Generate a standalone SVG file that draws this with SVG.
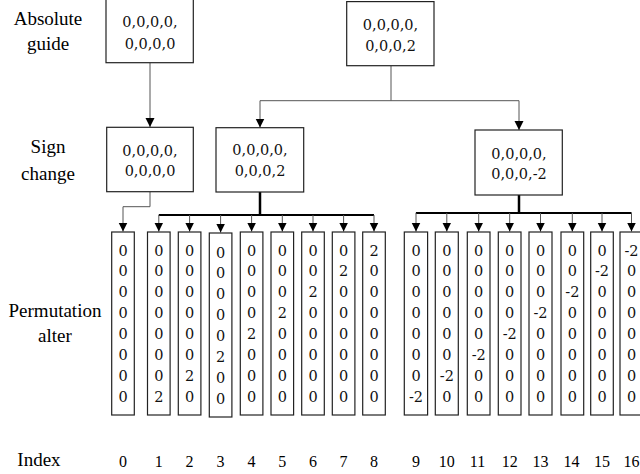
<svg xmlns="http://www.w3.org/2000/svg" width="640" height="474" viewBox="0 0 640 474">
<style>
.box{fill:#fff;stroke:#222;stroke-width:1.2}
.col{fill:#fff;stroke:#222;stroke-width:1.2}
.bt{font-family:"DejaVu Serif",serif;font-size:14.5px;fill:#111;text-anchor:middle}
.ct{font-family:"DejaVu Serif",serif;font-size:14.5px;fill:#111;text-anchor:middle}
.lb{font-family:"Liberation Serif",serif;font-size:19px;fill:#000;text-anchor:middle}
.ix{font-family:"Liberation Serif",serif;font-size:16px;fill:#000;text-anchor:middle}
.thin{fill:none;stroke:#555;stroke-width:1}
.bus{fill:none;stroke:#000;stroke-width:2}
.trunk{fill:none;stroke:#000;stroke-width:2.5}
</style>
<defs>
<marker id="ah" markerUnits="userSpaceOnUse" markerWidth="10" markerHeight="10" refX="9" refY="4.5" orient="auto">
<path d="M0,0 L9,4.5 L0,9 z" fill="#000"/>
</marker>
</defs>

<g id="labels">
<text class="lb" x="48" y="25">Absolute</text>
<text class="lb" x="48" y="50">guide</text>
<text class="lb" x="48" y="153">Sign</text>
<text class="lb" x="48" y="180">change</text>
<text class="lb" x="55" y="317">Permutation</text>
<text class="lb" x="55" y="342">alter</text>
<text class="lb" x="39" y="466">Index</text>
</g>

<g id="connectors">
<path class="thin" d="M150,62.7 V127" marker-end="url(#ah)"/>
<path class="thin" d="M391,65.7 V100.7 H260 V127.5" marker-end="url(#ah)"/>
<path class="thin" d="M391,100.7 H519 V130" marker-end="url(#ah)"/>
<path class="thin" d="M150,191.7 V206.7 H123 V231.5" marker-end="url(#ah)"/>
<path class="trunk" d="M260,192 V215"/>
<path class="bus" d="M158.8,215 H374"/>
<path class="trunk" d="M519,195 V213"/>
<path class="bus" d="M415.9,213 H631.5"/>
<path class="thin" d="M158.8,215 V231.5" marker-end="url(#ah)"/>
<path class="thin" d="M189.6,215 V231.5" marker-end="url(#ah)"/>
<path class="thin" d="M220.6,215 V232.5" marker-end="url(#ah)"/>
<path class="thin" d="M251.6,215 V231.5" marker-end="url(#ah)"/>
<path class="thin" d="M282.3,215 V231.5" marker-end="url(#ah)"/>
<path class="thin" d="M313,215 V231.5" marker-end="url(#ah)"/>
<path class="thin" d="M343.6,215 V231.5" marker-end="url(#ah)"/>
<path class="thin" d="M374,215 V231.5" marker-end="url(#ah)"/>
<path class="thin" d="M416,213 V231.5" marker-end="url(#ah)"/>
<path class="thin" d="M446.8,213 V231.5" marker-end="url(#ah)"/>
<path class="thin" d="M478.7,213 V231.5" marker-end="url(#ah)"/>
<path class="thin" d="M509.7,213 V231.5" marker-end="url(#ah)"/>
<path class="thin" d="M540.5,213 V231.5" marker-end="url(#ah)"/>
<path class="thin" d="M572.3,213 V231.5" marker-end="url(#ah)"/>
<path class="thin" d="M602,213 V231.5" marker-end="url(#ah)"/>
<path class="thin" d="M631.5,213 V231.5" marker-end="url(#ah)"/>
</g>

<g id="abs-guide">
<rect class="box" x="106" y="-1" width="87.3" height="63.7"/>
<text class="bt" x="150" y="27">0,0,0,0,</text>
<text class="bt" x="150" y="49">0,0,0,0</text>
</g>
<g id="root">
<rect class="box" x="346.7" y="1.6" width="87.3" height="64.1"/>
<text class="bt" x="390.5" y="29.5">0,0,0,0,</text>
<text class="bt" x="390.5" y="50.5">0,0,0,2</text>
</g>
<g id="sign-0">
<rect class="box" x="106.7" y="127.3" width="86.6" height="64.4"/>
<text class="bt" x="150" y="155.5">0,0,0,0,</text>
<text class="bt" x="150" y="175.5">0,0,0,0</text>
</g>
<g id="sign-pos">
<rect class="box" x="216" y="127.7" width="87.7" height="64.3"/>
<text class="bt" x="260" y="155">0,0,0,0,</text>
<text class="bt" x="260" y="175.5">0,0,0,2</text>
</g>
<g id="sign-neg">
<rect class="box" x="475" y="130" width="87.3" height="65"/>
<text class="bt" x="519" y="159">0,0,0,0,</text>
<text class="bt" x="519" y="179">0,0,0,-2</text>
</g>

<g id="col0"><rect class="col" x="111.7" y="232" width="22.6" height="183"/>
<text class="ct" x="123" y="255.5">0</text><text class="ct" x="123" y="276.4">0</text><text class="ct" x="123" y="297.4">0</text><text class="ct" x="123" y="318.3">0</text><text class="ct" x="123" y="339.3">0</text><text class="ct" x="123" y="360.3">0</text><text class="ct" x="123" y="381.2">0</text><text class="ct" x="123" y="402.2">0</text></g>
<g id="col1"><rect class="col" x="147.5" y="232" width="22.6" height="183"/>
<text class="ct" x="158.8" y="255.5">0</text><text class="ct" x="158.8" y="276.4">0</text><text class="ct" x="158.8" y="297.4">0</text><text class="ct" x="158.8" y="318.3">0</text><text class="ct" x="158.8" y="339.3">0</text><text class="ct" x="158.8" y="360.3">0</text><text class="ct" x="158.8" y="381.2">0</text><text class="ct" x="158.8" y="402.2">2</text></g>
<g id="col2"><rect class="col" x="178.3" y="232" width="22.6" height="183"/>
<text class="ct" x="189.6" y="255.5">0</text><text class="ct" x="189.6" y="276.4">0</text><text class="ct" x="189.6" y="297.4">0</text><text class="ct" x="189.6" y="318.3">0</text><text class="ct" x="189.6" y="339.3">0</text><text class="ct" x="189.6" y="360.3">0</text><text class="ct" x="189.6" y="381.2">2</text><text class="ct" x="189.6" y="402.2">0</text></g>
<g id="col3"><rect class="col" x="209.3" y="233" width="22.6" height="184"/>
<text class="ct" x="220.6" y="257.5">0</text><text class="ct" x="220.6" y="278.4">0</text><text class="ct" x="220.6" y="299.4">0</text><text class="ct" x="220.6" y="320.3">0</text><text class="ct" x="220.6" y="341.3">0</text><text class="ct" x="220.6" y="362.3">2</text><text class="ct" x="220.6" y="383.2">0</text><text class="ct" x="220.6" y="404.2">0</text></g>
<g id="col4"><rect class="col" x="240.3" y="232" width="22.6" height="183"/>
<text class="ct" x="251.6" y="255.5">0</text><text class="ct" x="251.6" y="276.4">0</text><text class="ct" x="251.6" y="297.4">0</text><text class="ct" x="251.6" y="318.3">0</text><text class="ct" x="251.6" y="339.3">2</text><text class="ct" x="251.6" y="360.3">0</text><text class="ct" x="251.6" y="381.2">0</text><text class="ct" x="251.6" y="402.2">0</text></g>
<g id="col5"><rect class="col" x="271" y="232" width="22.6" height="183"/>
<text class="ct" x="282.3" y="255.5">0</text><text class="ct" x="282.3" y="276.4">0</text><text class="ct" x="282.3" y="297.4">0</text><text class="ct" x="282.3" y="318.3">2</text><text class="ct" x="282.3" y="339.3">0</text><text class="ct" x="282.3" y="360.3">0</text><text class="ct" x="282.3" y="381.2">0</text><text class="ct" x="282.3" y="402.2">0</text></g>
<g id="col6"><rect class="col" x="301.7" y="232" width="22.6" height="183"/>
<text class="ct" x="313" y="255.5">0</text><text class="ct" x="313" y="276.4">0</text><text class="ct" x="313" y="297.4">2</text><text class="ct" x="313" y="318.3">0</text><text class="ct" x="313" y="339.3">0</text><text class="ct" x="313" y="360.3">0</text><text class="ct" x="313" y="381.2">0</text><text class="ct" x="313" y="402.2">0</text></g>
<g id="col7"><rect class="col" x="332.3" y="232" width="22.6" height="183"/>
<text class="ct" x="343.6" y="255.5">0</text><text class="ct" x="343.6" y="276.4">2</text><text class="ct" x="343.6" y="297.4">0</text><text class="ct" x="343.6" y="318.3">0</text><text class="ct" x="343.6" y="339.3">0</text><text class="ct" x="343.6" y="360.3">0</text><text class="ct" x="343.6" y="381.2">0</text><text class="ct" x="343.6" y="402.2">0</text></g>
<g id="col8"><rect class="col" x="362.7" y="232" width="22.6" height="183"/>
<text class="ct" x="374" y="255.5">2</text><text class="ct" x="374" y="276.4">0</text><text class="ct" x="374" y="297.4">0</text><text class="ct" x="374" y="318.3">0</text><text class="ct" x="374" y="339.3">0</text><text class="ct" x="374" y="360.3">0</text><text class="ct" x="374" y="381.2">0</text><text class="ct" x="374" y="402.2">0</text></g>
<g id="col9"><rect class="col" x="404.3" y="232" width="23.3" height="183"/>
<text class="ct" x="416" y="255.5">0</text><text class="ct" x="416" y="276.4">0</text><text class="ct" x="416" y="297.4">0</text><text class="ct" x="416" y="318.3">0</text><text class="ct" x="416" y="339.3">0</text><text class="ct" x="416" y="360.3">0</text><text class="ct" x="416" y="381.2">0</text><text class="ct" x="416" y="402.2">-2</text></g>
<g id="col10"><rect class="col" x="435.3" y="232" width="23" height="183"/>
<text class="ct" x="446.8" y="255.5">0</text><text class="ct" x="446.8" y="276.4">0</text><text class="ct" x="446.8" y="297.4">0</text><text class="ct" x="446.8" y="318.3">0</text><text class="ct" x="446.8" y="339.3">0</text><text class="ct" x="446.8" y="360.3">0</text><text class="ct" x="446.8" y="381.2">-2</text><text class="ct" x="446.8" y="402.2">0</text></g>
<g id="col11"><rect class="col" x="467.3" y="232" width="22.7" height="183"/>
<text class="ct" x="478.7" y="255.5">0</text><text class="ct" x="478.7" y="276.4">0</text><text class="ct" x="478.7" y="297.4">0</text><text class="ct" x="478.7" y="318.3">0</text><text class="ct" x="478.7" y="339.3">0</text><text class="ct" x="478.7" y="360.3">-2</text><text class="ct" x="478.7" y="381.2">0</text><text class="ct" x="478.7" y="402.2">0</text></g>
<g id="col12"><rect class="col" x="498.3" y="232" width="22.7" height="183"/>
<text class="ct" x="509.7" y="255.5">0</text><text class="ct" x="509.7" y="276.4">0</text><text class="ct" x="509.7" y="297.4">0</text><text class="ct" x="509.7" y="318.3">0</text><text class="ct" x="509.7" y="339.3">-2</text><text class="ct" x="509.7" y="360.3">0</text><text class="ct" x="509.7" y="381.2">0</text><text class="ct" x="509.7" y="402.2">0</text></g>
<g id="col13"><rect class="col" x="529" y="232" width="23" height="183"/>
<text class="ct" x="540.5" y="255.5">0</text><text class="ct" x="540.5" y="276.4">0</text><text class="ct" x="540.5" y="297.4">0</text><text class="ct" x="540.5" y="318.3">-2</text><text class="ct" x="540.5" y="339.3">0</text><text class="ct" x="540.5" y="360.3">0</text><text class="ct" x="540.5" y="381.2">0</text><text class="ct" x="540.5" y="402.2">0</text></g>
<g id="col14"><rect class="col" x="561" y="232" width="22.7" height="183"/>
<text class="ct" x="572.3" y="255.5">0</text><text class="ct" x="572.3" y="276.4">0</text><text class="ct" x="572.3" y="297.4">-2</text><text class="ct" x="572.3" y="318.3">0</text><text class="ct" x="572.3" y="339.3">0</text><text class="ct" x="572.3" y="360.3">0</text><text class="ct" x="572.3" y="381.2">0</text><text class="ct" x="572.3" y="402.2">0</text></g>
<g id="col15"><rect class="col" x="590.7" y="232" width="22.6" height="183"/>
<text class="ct" x="602" y="255.5">0</text><text class="ct" x="602" y="276.4">-2</text><text class="ct" x="602" y="297.4">0</text><text class="ct" x="602" y="318.3">0</text><text class="ct" x="602" y="339.3">0</text><text class="ct" x="602" y="360.3">0</text><text class="ct" x="602" y="381.2">0</text><text class="ct" x="602" y="402.2">0</text></g>
<g id="col16"><rect class="col" x="620" y="232" width="23" height="183"/>
<text class="ct" x="631.5" y="255.5">-2</text><text class="ct" x="631.5" y="276.4">0</text><text class="ct" x="631.5" y="297.4">0</text><text class="ct" x="631.5" y="318.3">0</text><text class="ct" x="631.5" y="339.3">0</text><text class="ct" x="631.5" y="360.3">0</text><text class="ct" x="631.5" y="381.2">0</text><text class="ct" x="631.5" y="402.2">0</text></g>

<g id="index">
<text class="ix" x="123" y="467">0</text>
<text class="ix" x="158.8" y="467">1</text>
<text class="ix" x="189.6" y="467">2</text>
<text class="ix" x="220.6" y="467">3</text>
<text class="ix" x="251.6" y="467">4</text>
<text class="ix" x="282.3" y="467">5</text>
<text class="ix" x="313" y="467">6</text>
<text class="ix" x="343.6" y="467">7</text>
<text class="ix" x="374" y="467">8</text>
<text class="ix" x="416" y="467">9</text>
<text class="ix" x="446.8" y="467">10</text>
<text class="ix" x="477.5" y="467">11</text>
<text class="ix" x="509.7" y="467">12</text>
<text class="ix" x="540.5" y="467">13</text>
<text class="ix" x="571.5" y="467">14</text>
<text class="ix" x="602" y="467">15</text>
<text class="ix" x="631.5" y="467">16</text>
</g>
</svg>
